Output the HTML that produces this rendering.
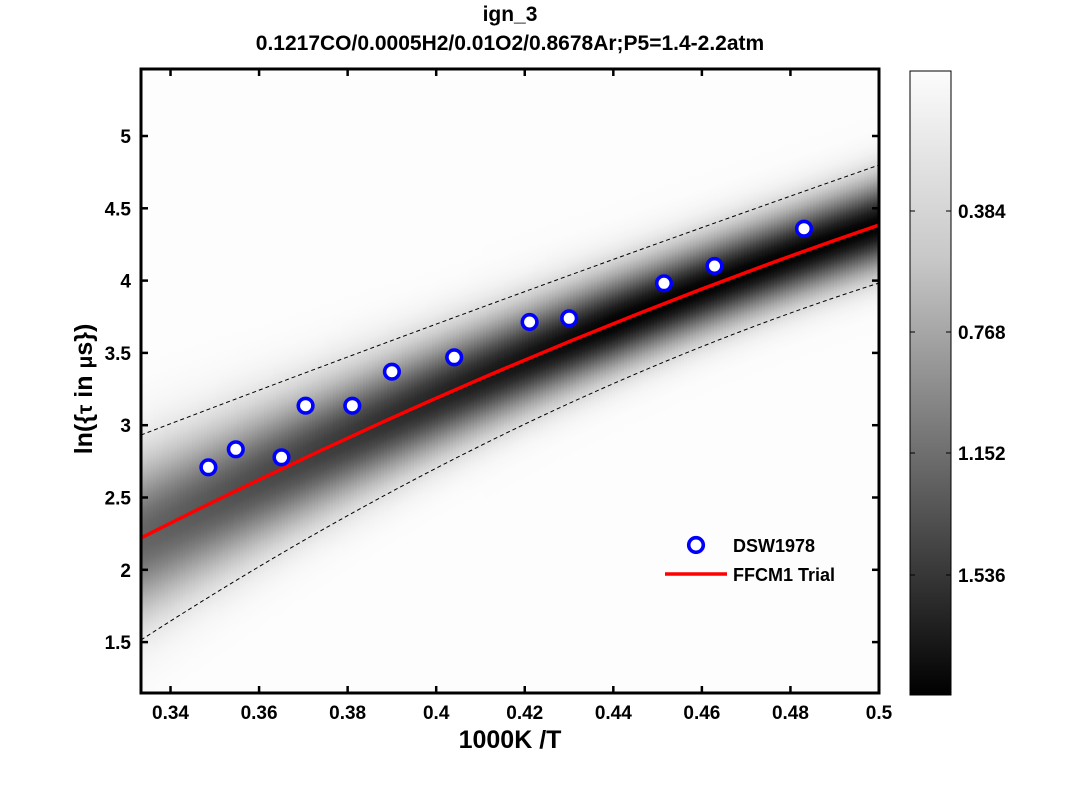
<!DOCTYPE html>
<html><head><meta charset="utf-8"><style>
body{margin:0;background:#fff;}
svg text{font-family:"Liberation Sans",Arial,sans-serif;font-weight:bold;fill:#000;}
</style></head><body>
<svg id="s" width="1092" height="780" viewBox="0 0 1092 780" xmlns="http://www.w3.org/2000/svg">
<defs>
<linearGradient id="cb" x1="0" y1="0" x2="0" y2="1">
<stop offset="0" stop-color="#fcfcfc"/><stop offset="0.3" stop-color="#c8c8c8"/><stop offset="1" stop-color="#000"/>
</linearGradient>
<clipPath id="pc"><rect x="141" y="69" width="738" height="624"/></clipPath>
</defs>
<rect width="1092" height="780" fill="#fff"/>
<g id="band" clip-path="url(#pc)"></g>
<g clip-path="url(#pc)" fill="none">
<path d="M141,435 Q510,294 879,165" stroke="#000" stroke-width="1" stroke-dasharray="4,3"/>
<path d="M141,640 Q510,401 879,283" stroke="#000" stroke-width="1" stroke-dasharray="4,3"/>
<path d="M141,538 Q510,351 879,225" stroke="#f00" stroke-width="3.5"/>
</g>
<g fill="#fff" stroke="#00f" stroke-width="3.6">
<circle cx="208.4" cy="467.3" r="7.3"/><circle cx="235.8" cy="449.3" r="7.3"/>
<circle cx="281.5" cy="457.3" r="7.3"/><circle cx="305.6" cy="405.7" r="7.3"/>
<circle cx="352.3" cy="405.7" r="7.3"/><circle cx="391.9" cy="371.7" r="7.3"/>
<circle cx="454.2" cy="357.3" r="7.3"/><circle cx="529.6" cy="322" r="7.3"/>
<circle cx="569.2" cy="318.3" r="7.3"/><circle cx="664" cy="283.3" r="7.3"/>
<circle cx="714.5" cy="266" r="7.3"/><circle cx="804" cy="228.7" r="7.3"/>
<circle cx="696" cy="545" r="7.3"/>
</g>
<line x1="665" y1="574" x2="727" y2="574" stroke="#f00" stroke-width="3.5"/>
<text x="733" y="552" font-size="18">DSW1978</text>
<text x="733" y="581" font-size="18">FFCM1 Trial</text>
<g id="ticks" stroke="#000" stroke-width="2.5"></g>
<rect x="141" y="69" width="738" height="624" fill="none" stroke="#000" stroke-width="3"/>
<g id="tl" font-size="19"></g>
<text x="510" y="21" font-size="21" text-anchor="middle">ign_3</text>
<text x="510" y="50" font-size="21" text-anchor="middle">0.1217CO/0.0005H2/0.01O2/0.8678Ar;P5=1.4-2.2atm</text>
<text x="510" y="748" font-size="25" text-anchor="middle">1000K /T</text>
<text transform="translate(92,389) rotate(-90)" font-size="25" text-anchor="middle">ln({<tspan font-size="21">τ</tspan> in <tspan font-size="21">μ</tspan>s})</text>
<rect x="910" y="71" width="41" height="624" fill="url(#cb)" stroke="#000" stroke-width="1"/>
<g stroke="#000" stroke-width="1">
<line x1="910" y1="211" x2="915" y2="211"/><line x1="946" y1="211" x2="951" y2="211"/>
<line x1="910" y1="332" x2="915" y2="332"/><line x1="946" y1="332" x2="951" y2="332"/>
<line x1="910" y1="453" x2="915" y2="453"/><line x1="946" y1="453" x2="951" y2="453"/>
<line x1="910" y1="575" x2="915" y2="575"/><line x1="946" y1="575" x2="951" y2="575"/>
</g>
<g font-size="19">
<text x="958" y="218">0.384</text><text x="958" y="339">0.768</text>
<text x="958" y="460">1.152</text><text x="958" y="582">1.536</text>
</g>
</svg>
<script>
var NS="http://www.w3.org/2000/svg";
var s=document.getElementById('s'),defs=s.querySelector('defs'),band=document.getElementById('band');
function cv(x,y0,y1,d){var t=(x-141)/738;return y0+(y1-y0)*t-4*d*t*(1-t);}
var step=3;
for(var x=141;x<880;x+=step){
 var xm=x+step/2;
 var c=cv(xm,538,225,15),u=cv(xm,435,165,4),l=cv(xm,640,283,30);
 var su=(c-u)/2,sl=(l-c)/2;var sig=(su+sl)/2;
 var amp=Math.min(1,1.08*29/sig);
 var g=document.createElementNS(NS,'linearGradient');
 g.setAttribute('id','g'+x);g.setAttribute('gradientUnits','userSpaceOnUse');
 g.setAttribute('x1',0);g.setAttribute('x2',0);g.setAttribute('y1',69);g.setAttribute('y2',693);
 for(var k=-4;k<=4;k+=0.25){var y=c+k*(k<0?su:sl);var dark=amp*Math.exp(-k*k/2);
  var v=Math.round(253*(1-dark));var o=(y-69)/624;
  if(o<0||o>1)continue;
  var st=document.createElementNS(NS,'stop');st.setAttribute('offset',o);st.setAttribute('stop-color','rgb('+v+','+v+','+v+')');g.appendChild(st);}
 defs.appendChild(g);
 var r=document.createElementNS(NS,'rect');r.setAttribute('x',x);r.setAttribute('y',69);r.setAttribute('width',step+0.6);r.setAttribute('height',624);r.setAttribute('fill','url(#g'+x+')');band.appendChild(r);
}
var tk=document.getElementById('ticks'),tl=document.getElementById('tl');
function ln(a,b,c,d){var e=document.createElementNS(NS,'line');e.setAttribute('x1',a);e.setAttribute('y1',b);e.setAttribute('x2',c);e.setAttribute('y2',d);tk.appendChild(e);}
function tx(x,y,t,anc){var e=document.createElementNS(NS,'text');e.setAttribute('x',x);e.setAttribute('y',y);e.setAttribute('text-anchor',anc);e.textContent=t;tl.appendChild(e);}
var xs=['0.34','0.36','0.38','0.4','0.42','0.44','0.46','0.48','0.5'];
for(var i=0;i<9;i++){var v=0.34+0.02*i;var px=141+(v-1/3)/(0.5-1/3)*738;
 ln(px,693,px,686);ln(px,69,px,76);tx(px,719,xs[i],'middle');}
var ys=['1.5','2','2.5','3','3.5','4','4.5','5'];
for(var i=0;i<8;i++){var v=1.5+0.5*i;var py=136+(5-v)*144.6;
 ln(141,py,148,py);ln(879,py,872,py);tx(131,py+7,ys[i],'end');}
</script>
</body></html>
